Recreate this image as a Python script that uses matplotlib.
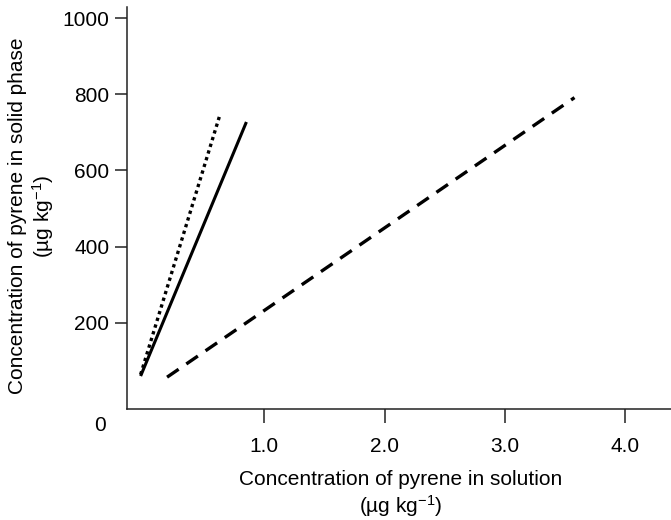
import matplotlib
matplotlib.use("Agg")
import matplotlib.pyplot as plt

plt.rcParams['font.family'] = ['Liberation Sans', 'DejaVu Sans']
plt.rcParams['mathtext.fontset'] = 'custom'
plt.rcParams['mathtext.rm'] = 'Liberation Sans'
plt.rcParams['mathtext.it'] = 'Liberation Sans:italic'
plt.rcParams['mathtext.bf'] = 'Liberation Sans:bold'

# Data
solid_x = [-0.03, 0.85]
solid_y = [60, 727]
dotted_x = [-0.03, 0.63]
dotted_y = [64, 746]
dashed_x = [0.19, 3.58]
dashed_y = [57, 791]

xticks = [1.0, 2.0, 3.0, 4.0]
xticklabels = ['1.0', '2.0', '3.0', '4.0']
yticks = [200, 400, 600, 800, 1000]
yticklabels = ['200', '400', '600', '800', '1000']

fig = plt.figure(figsize=(6.71, 5.20), dpi=100)
ax = fig.add_axes([0.1888, 0.2135, 0.8112, 0.7731])

ax.plot(solid_x, solid_y, color='black', lw=2.2, solid_capstyle='butt')
ax.plot(dotted_x, dotted_y, color='black', lw=2.4, linestyle=(0, (1, 1.1)),
        dash_capstyle='butt')
ax.plot(dashed_x, dashed_y, color='black', lw=2.4, linestyle=(0, (4.2, 2.8)),
        dash_capstyle='butt')

ax.set_xlim(-0.146, 4.383)
ax.set_ylim(-26.5, 1029)

for s in ['top', 'right']:
    ax.spines[s].set_visible(False)
for s in ['left', 'bottom']:
    ax.spines[s].set_linewidth(1.1)
    ax.spines[s].set_color('#222222')

ax.set_xticks(xticks)
ax.set_xticklabels(xticklabels, fontsize=15)
ax.set_yticks(yticks)
ax.set_yticklabels(yticklabels, fontsize=15)
ax.tick_params(axis='x', direction='out', length=10, width=1.1, pad=10, color='#222222')
ax.tick_params(axis='y', direction='out', length=9, width=1.1, pad=3.5, color='#222222')

ax.text(-0.049, -0.040, '0', transform=ax.transAxes, ha='center', va='center',
        fontsize=15)

ax.set_xlabel('Concentration of pyrene in solution\n(\u00b5g kg$^{-1}$)', fontsize=15)
ax.xaxis.set_label_coords(0.504, -0.212)
ax.xaxis.label.set_va('center')
ax.set_ylabel('Concentration of pyrene in solid phase\n(\u00b5g kg$^{-1}$)', fontsize=15)
ax.yaxis.set_label_coords(-0.174, 0.48)
ax.yaxis.label.set_va('center')

fig.savefig('out.png', dpi=100)
